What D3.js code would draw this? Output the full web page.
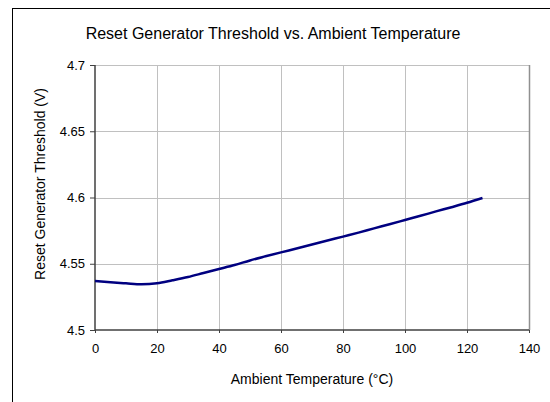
<!DOCTYPE html>
<html><head><meta charset="utf-8">
<script src="https://cdn.jsdelivr.net/npm/d3@7"></script>
<style>
html,body{margin:0;padding:0;background:#fff;}
svg{display:block;font-family:"Liberation Sans",Arial,sans-serif;}
</style></head>
<body>
<svg id="c" width="550" height="402"></svg>
<script>
const title = "Reset Generator Threshold vs. Ambient Temperature";
const xTitle = "Ambient Temperature (°C)";
const yTitle = "Reset Generator Threshold (V)";
const temps = [0,5,10,15,20,25,30,35,40,45,50,55,60,65,70,75,80,85,90,95,100,105,110,115,120,125];
const thresholds = [4.537,4.536,4.5352,4.5345,4.5352,4.5375,4.540,4.543,4.546,4.549,4.5525,4.5556,4.5586,4.5615,4.5645,4.5675,4.5705,4.5735,4.5767,4.5798,4.583,4.5862,4.5895,4.5927,4.596,4.5996];
const xTicks = [0,20,40,60,80,100,120,140];
const yTicks = [4.5,4.55,4.6,4.65,4.7];
const yTickLabels = ["4.5","4.55","4.6","4.65","4.7"];

const svg = d3.select("#c");
const L=95, R=529, T=65, B=330;
const x = d3.scaleLinear().domain([0,140]).range([L,R]);
const y = d3.scaleLinear().domain([4.5,4.7]).range([B,T]);

// outer chart border
svg.append("rect").attr("x",12.5).attr("y",8.5).attr("width",700).attr("height",700)
  .attr("fill","#fff").attr("stroke","#000").attr("stroke-width",1);

svg.append("text").attr("x",273).attr("y",39).attr("text-anchor","middle")
  .attr("font-size",16).attr("fill","#000").text(title);

// gridlines
const g = svg.append("g");
g.selectAll("line.hg").data(yTicks.slice(1)).enter().append("line")
  .attr("x1",L).attr("x2",R).attr("y1",d=>Math.round(y(d))+0.5).attr("y2",d=>Math.round(y(d))+0.5)
  .attr("stroke","#c0c0c0").attr("stroke-width",1);
g.selectAll("line.vg").data(xTicks.slice(1)).enter().append("line")
  .attr("y1",T).attr("y2",B).attr("x1",d=>Math.round(x(d))+0.5).attr("x2",d=>Math.round(x(d))+0.5)
  .attr("stroke","#c0c0c0").attr("stroke-width",1);
// right border of plot
svg.append("line").attr("x1",R+0.5).attr("x2",R+0.5).attr("y1",T).attr("y2",B)
  .attr("stroke","#909090").attr("stroke-width",1.5);

// axes
const yAxis = d3.axisLeft(y).tickValues(yTicks).tickFormat((d,i)=>yTickLabels[i]).tickSize(5).tickPadding(5);
const ya = svg.append("g").attr("transform",`translate(${L},0)`).call(yAxis);
const xAxis = d3.axisBottom(x).tickValues(xTicks).tickFormat(d3.format("d")).tickSize(3).tickPadding(11);
const xa = svg.append("g").attr("transform",`translate(0,${B})`).call(xAxis);
[ya,xa].forEach(a=>{
  a.select(".domain").attr("stroke","#404040").attr("stroke-width",1.5);
  a.selectAll(".tick line").attr("stroke","#404040");
  a.selectAll("text").attr("font-size",13).attr("fill","#000").attr("font-family","Liberation Sans, Arial, sans-serif");
});
ya.select(".domain").attr("d",`M0,${B}V${T}`);
xa.select(".domain").attr("d",`M${L},0H${R}`);

// line
const line = d3.line().x((d,i)=>x(temps[i])).y(d=>y(d)).curve(d3.curveMonotoneX);
svg.append("path").datum(thresholds).attr("d",line).attr("fill","none")
  .attr("stroke","#000080").attr("stroke-width",2.5).attr("stroke-linejoin","round");

// axis titles
svg.append("text").attr("x",(L+R)/2).attr("y",384).attr("text-anchor","middle")
  .attr("font-size",14).attr("fill","#000").text(xTitle);
svg.append("text").attr("transform","translate(45,184) rotate(-90)").attr("text-anchor","middle")
  .attr("font-size",14).attr("fill","#000").text(yTitle);
</script>
</body></html>
